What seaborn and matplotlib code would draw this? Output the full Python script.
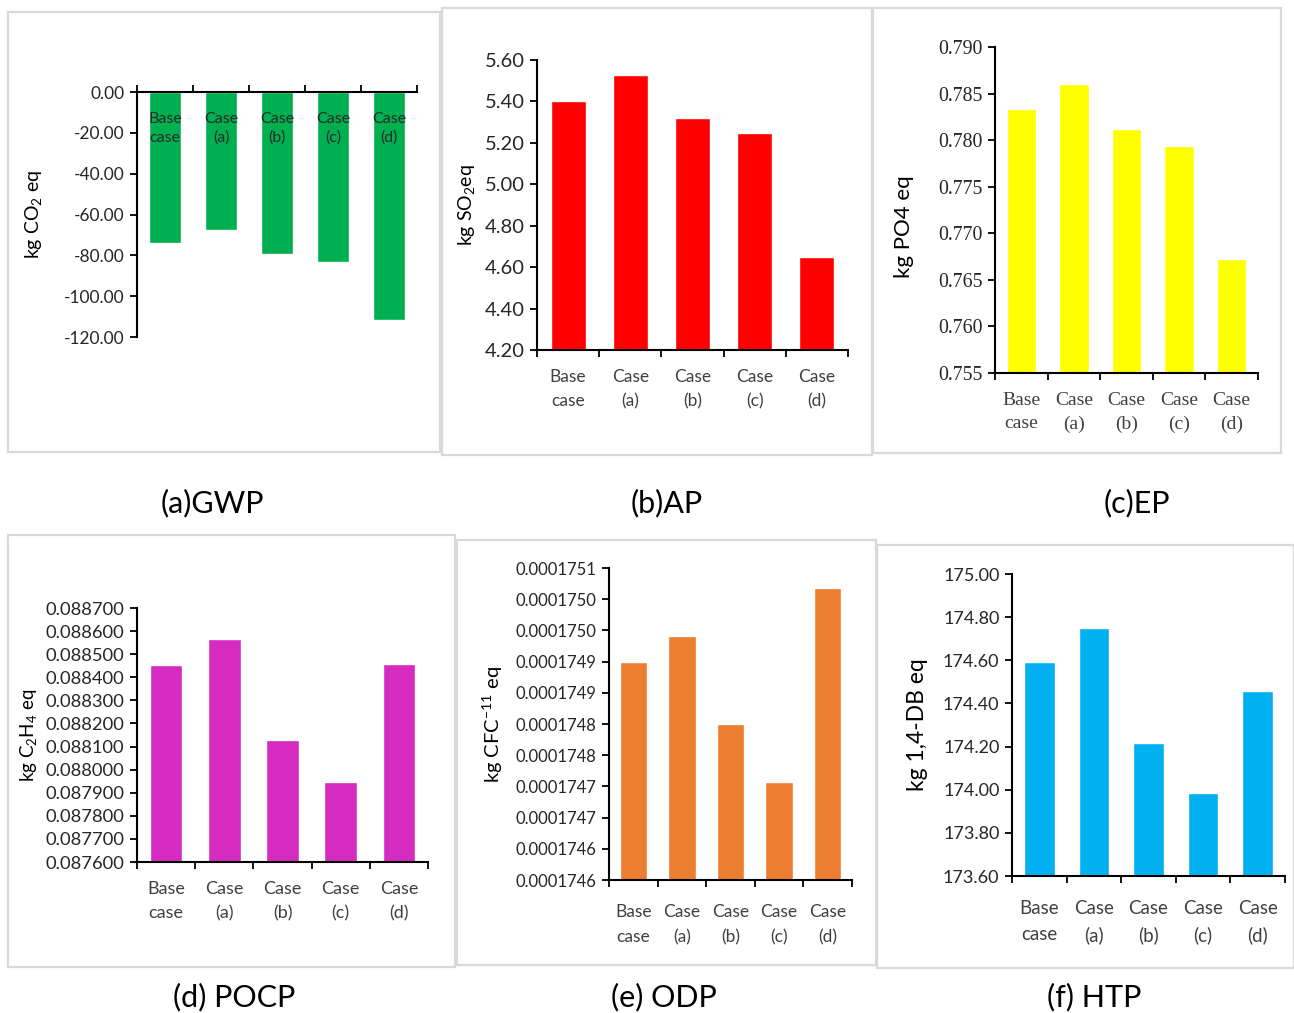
import numpy as np
import matplotlib
matplotlib.use("Agg")
import matplotlib.pyplot as plt
import seaborn as sns
from matplotlib.patches import Rectangle

# =========================
# data
# =========================
cases = ["Base\ncase", "Case\n(a)", "Case\n(b)", "Case\n(c)", "Case\n(d)"]

gwp = [-74.0, -67.5, -79.5, -83.5, -111.5]
ap = [5.40, 5.53, 5.32, 5.25, 4.65]
ep = [0.7833, 0.7860, 0.7812, 0.7794, 0.7672]
pocp = [0.088453, 0.088566, 0.088128, 0.087946, 0.088458]
odp = [0.00017490, 0.000174941, 0.00017480, 0.0001747075, 0.0001750186]
htp = [174.59, 174.75, 174.215, 173.986, 174.456]

odp_ticks = [0.00017455, 0.00017460, 0.00017465, 0.00017470, 0.00017475, 0.00017480,
             0.00017485, 0.00017490, 0.00017495, 0.00017500, 0.00017505]
odp_tick_labels = ["0.0001746", "0.0001746", "0.0001747", "0.0001747", "0.0001748", "0.0001748",
                   "0.0001749", "0.0001749", "0.0001750", "0.0001750", "0.0001751"]

captions = ["(a)GWP", "(b)AP", "(c)EP", "(d) POCP", "(e) ODP", "(f) HTP"]

sns.set_theme(style="white")
plt.rcParams['font.family'] = ['Lato', 'DejaVu Sans']
plt.rcParams['mathtext.fontset'] = 'custom'
plt.rcParams['mathtext.rm'] = 'Lato'

W, H = 1294, 1013
fig = plt.figure(figsize=(W / 100, H / 100), dpi=100)


def px_axes(left, top, right, bottom):
    return fig.add_axes([left / W, 1 - bottom / H, (right - left) / W, (bottom - top) / H])


def box(left, top, right, bottom):
    fig.patches.append(Rectangle((left / W, 1 - bottom / H), (right - left) / W, (bottom - top) / H,
                                 transform=fig.transFigure, fill=False, ec='#d9d9d9', lw=1.6))


def panel(rect, vals, color, ylim, step, fmt, ylabel, lab_xy, tick_fs=12, xfs=12, yl_fs=14,
          serif=False, top_axis=False, ticks=None, ticklabels=None, xpad=14, ls=1.6,
          xcolor='#404040'):
    ax = px_axes(*rect)
    sns.barplot(x=cases, y=vals, color=color, saturation=1, width=0.56, ax=ax)
    ax.set_ylim(*ylim)
    ax.set_xlim(-0.5, 4.5)
    if ticks is None:
        ticks = np.arange(ylim[0], ylim[1] + step / 2, step)
    ax.set_yticks(ticks)
    if ticklabels is None:
        ticklabels = [fmt.format(v) for v in ticks]
    fam = ['Liberation Serif'] if serif else ['Lato', 'DejaVu Sans']
    ax.set_yticklabels(ticklabels, fontsize=tick_fs, family=fam, color='#262626')
    # category boundaries carry the tick marks, centres carry the labels
    ax.set_xticks(np.arange(-0.5, 5, 1))
    ax.set_xticklabels([])
    ax.set_xticks(range(5), minor=True)
    ax.set_xticklabels(cases, minor=True, fontsize=xfs, family=fam, color=xcolor,
                       linespacing=ls)
    ax.tick_params(axis='both', which='major', length=5, width=1.3, color='black')
    ax.tick_params(axis='y', direction='out', left=True, pad=4)
    ax.spines['right'].set_visible(False)
    ax.spines['left'].set_color('black')
    ax.spines['left'].set_linewidth(1.5)
    if top_axis:
        # zero line at the top: ticks point up, labels hang down over the bars
        ax.set_axisbelow(False)
        ax.spines['bottom'].set_visible(False)
        ax.spines['top'].set_color('black')
        ax.spines['top'].set_linewidth(1.5)
        ax.tick_params(axis='x', which='major', direction='out', top=True, bottom=False)
        ax.tick_params(axis='x', which='minor', length=0, top=True, bottom=False,
                       labeltop=True, labelbottom=False, pad=-xpad)
    else:
        ax.spines['top'].set_visible(False)
        ax.spines['bottom'].set_color('black')
        ax.spines['bottom'].set_linewidth(1.5)
        ax.tick_params(axis='x', which='major', direction='out', bottom=True)
        ax.tick_params(axis='x', which='minor', length=0, pad=xpad)
    ax.set_xlabel("")
    ax.set_ylabel(ylabel, fontsize=yl_fs, color='black')
    ax.yaxis.set_label_coords(*lab_xy)
    ax.set_facecolor('none')
    return ax


# panel frames
box(8, 12, 440, 452)
box(442, 8, 872, 455)
box(873, 8, 1281, 453)
box(8, 535, 455, 967)
box(457, 540, 876, 965)
box(877, 545, 1294, 968)

panel((137, 92, 417, 337), gwp, '#00b050', (-120, 0), 20, "{:.2f}",
      r"kg CO$_\mathregular{2}$ eq", (-0.33, 0.5), tick_fs=12.5, xfs=11.5, yl_fs=14,
      top_axis=True, xpad=38, ls=1.4, xcolor='#2a2a2a')
panel((537, 60, 848, 350), ap, '#ff0000', (4.2, 5.6), 0.2, "{:.2f}",
      r"kg SO$_\mathregular{2}$eq", (-0.19, 0.50), tick_fs=14.5, xfs=12.5, yl_fs=14)
panel((995, 47, 1258, 373), ep, '#ffff00', (0.755, 0.790), 0.005, "{:.3f}",
      "kg PO4 eq", (-0.308, 0.448), tick_fs=14.3, xfs=14, yl_fs=16, serif=True, ls=1.45)
panel((137, 608, 428, 862), pocp, '#d62bc0', (0.0876, 0.0887), 0.0001, "{:.6f}",
      r"kg C$_\mathregular{2}$H$_\mathregular{4}$ eq", (-0.333, 0.50), tick_fs=13.2, xfs=13,
      yl_fs=13.5)
panel((609, 568, 852, 880), odp, '#ed7d31', (0.00017455, 0.00017505), None, None,
      r"kg CFC$^\mathregular{-11}$ eq", (-0.428, 0.50), tick_fs=12, xfs=12.5, yl_fs=14.5,
      ticks=odp_ticks, ticklabels=odp_tick_labels, ls=1.75, xpad=17)
panel((1012, 574, 1285, 876), htp, '#00b0f0', (173.6, 175.0), 0.2, "{:.2f}",
      "kg 1,4-DB eq", (-0.308, 0.50), tick_fs=13, xfs=13.5, yl_fs=16.5, ls=1.65, xpad=17)

cap_xy = [(212, 503), (667, 503), (1137, 503), (234, 997), (664, 997), (1094, 997)]
for (cx, cy), txt in zip(cap_xy, captions):
    fig.text(cx / W, 1 - cy / H, txt, ha='center', va='center', fontsize=22, color='black')

fig.savefig("out.png", dpi=100, facecolor='white')
